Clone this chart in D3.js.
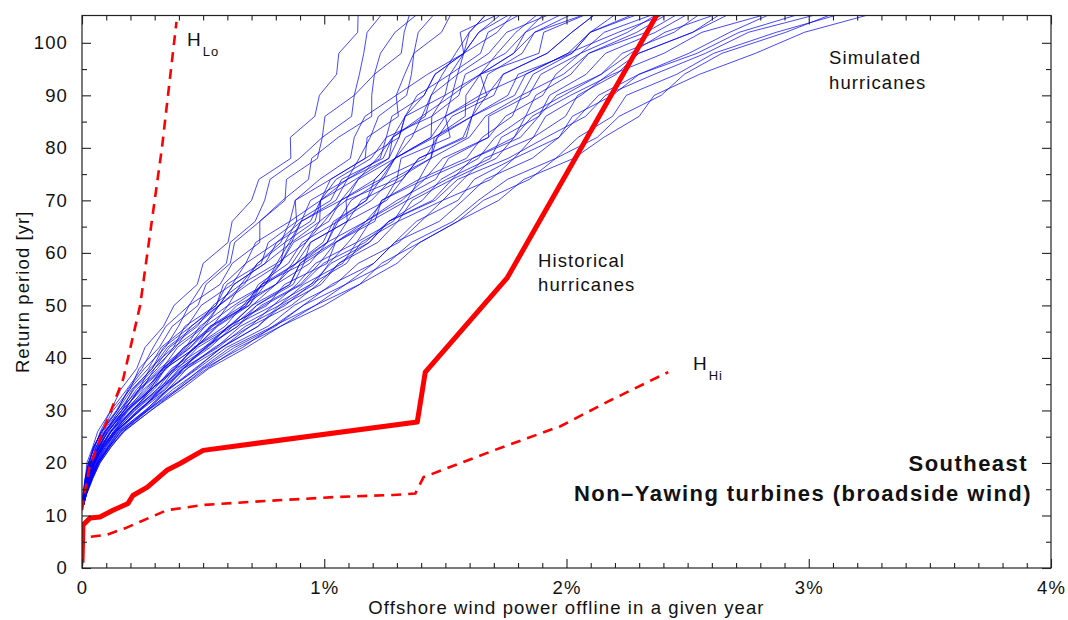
<!DOCTYPE html>
<html>
<head>
<meta charset="utf-8">
<script src="https://cdn.jsdelivr.net/npm/d3@7"></script>
<style>
  html, body { margin: 0; padding: 0; background: #fff; }
  svg { display: block; }
  text { font-family: "Liberation Sans", Arial, Helvetica, sans-serif; fill: #111; }
</style>
</head>
<body>
<svg id="chart" width="1068" height="620"></svg>
<script>
// Return periods (years) at which each simulated loss curve is sampled
const returnPeriods = [12, 14, 17, 20, 23, 26, 30, 34, 38, 42, 46, 50, 54, 58, 62, 66, 70, 74, 78, 82, 86, 90, 94, 98, 102, 106];

// Simulated hurricane sets: offshore wind power offline (%) at each return period
const simulated = [
  [0, .003, .014, .020, .044, .065, .119, .160, .226, .260, .336, .380, .476, .500, .603, .620, .700, .730, .862, .860, .961, .980, 1.051, 1.060, 1.138, 1.140],
  [.002, .005, .012, .026, .052, .076, .119, .185, .248, .294, .346, .442, .498, .596, .612, .715, .754, .776, .898, .992, 1.003, 1.124, 1.145, 1.163, 1.177, 1.248],
  [.002, .006, .015, .031, .048, .082, .146, .190, .258, .344, .398, .442, .570, .620, .734, .734, .828, .935, .948, 1.058, 1.196, 1.196, 1.207, 1.318, 1.330, 1.356],
  [.003, .008, .019, .037, .056, .093, .164, .210, .290, .336, .450, .554, .584, .676, .717, .858, .880, .981, 1.108, 1.124, 1.168, 1.297, 1.332, 1.370, 1.484, 1.529],
  [.005, .012, .024, .039, .064, .093, .164, .248, .300, .386, .450, .566, .670, .724, .821, .858, .985, 1.049, 1.194, 1.256, 1.279, 1.412, 1.457, 1.576, 1.599, 1.680],
  [.001, .006, .017, .034, .068, .109, .173, .235, .332, .394, .507, .566, .685, .820, .838, .962, .985, 1.129, 1.267, 1.282, 1.417, 1.441, 1.550, 1.576, 1.714, 1.788],
  [.006, .013, .028, .045, .072, .104, .182, .273, .332, .436, .507, .628, .757, .804, .925, .981, 1.090, 1.140, 1.292, 1.441, 1.444, 1.556, 1.582, 1.748, 1.830, 1.918],
  [.002, .009, .024, .045, .080, .115, .186, .280, .338, .449, .538, .678, .728, .852, .908, 1.057, 1.111, 1.243, 1.292, 1.441, 1.500, 1.642, 1.675, 1.817, 1.868, 2.047],
  [.004, .012, .028, .050, .078, .122, .193, .285, .386, .462, .590, .665, .800, .884, 1.012, 1.057, 1.195, 1.277, 1.440, 1.467, 1.610, 1.671, 1.738, 1.920, 2.022, 2.134],
  [.006, .015, .033, .053, .084, .131, .209, .285, .396, .478, .622, .721, .872, .916, 1.047, 1.190, 1.237, 1.391, 1.440, 1.599, 1.665, 1.815, 1.862, 2.023, 2.098, 2.220],
  [.003, .011, .028, .050, .088, .137, .218, .310, .418, .504, .642, .740, .901, .980, 1.047, 1.171, 1.300, 1.460, 1.513, 1.678, 1.748, 1.902, 1.956, 2.058, 2.252, 2.393],
  [.007, .017, .036, .059, .092, .142, .229, .340, .418, .554, .653, .814, .915, 1.076, 1.134, 1.285, 1.342, 1.505, 1.686, 1.731, 1.886, 1.930, 2.081, 2.161, 2.367, 2.522],
  [.005, .014, .035, .061, .104, .148, .240, .355, .434, .579, .694, .864, .973, 1.060, 1.221, 1.304, 1.489, 1.574, 1.661, 1.863, 1.914, 2.060, 2.174, 2.298, 2.521, 2.695],
  [.007, .017, .038, .065, .108, .153, .261, .355, .479, .596, .767, .876, 1.045, 1.140, 1.308, 1.399, 1.489, 1.688, 1.784, 1.969, 2.052, 2.132, 2.299, 2.505, 2.674, 2.868],
  [.006, .017, .040, .070, .114, .170, .272, .398, .504, .663, .788, .963, 1.088, 1.260, 1.360, 1.532, 1.636, 1.756, 1.956, 2.048, 2.190, 2.247, 2.455, 2.608, 2.866, 3.170],
  [.006, .018, .043, .075, .118, .175, .283, .410, .524, .680, .819, 1.000, 1.146, 1.300, 1.395, 1.551, 1.720, 1.824, 2.030, 2.154, 2.300, 2.362, 2.549, 2.780, 2.982, 3.300],
  [.002, .006, .014, .028, .048, .082, .146, .205, .290, .352, .466, .566, .627, .756, .865, .905, 1.069, 1.209, 1.292, 1.454, 1.610, 1.642, 1.831, 2.006, 2.214, 2.436],
  [.004, .013, .033, .053, .090, .129, .209, .310, .376, .470, .554, .678, .742, .820, .865, .981, .985, 1.095, 1.144, 1.190, 1.224, 1.340, 1.360, 1.370, 1.388, 1.464],
  [.003, .009, .021, .034, .064, .096, .173, .240, .338, .420, .554, .640, .800, .940, 1.012, 1.171, 1.321, 1.414, 1.612, 1.784, 1.858, 2.017, 2.190, 2.402, 2.559, 2.868],
  [.005, .015, .038, .067, .112, .159, .268, .360, .472, .575, .726, .814, .958, 1.020, 1.099, 1.171, 1.248, 1.300, 1.440, 1.454, 1.582, 1.585, 1.644, 1.714, 1.791, 1.896],
  [.005, .012, .024, .048, .072, .120, .182, .290, .344, .470, .528, .690, .742, .916, .943, 1.095, 1.090, 1.300, 1.317, 1.520, 1.500, 1.671, 1.644, 1.886, 1.906, 2.112],
  [.002, .008, .022, .037, .070, .100, .175, .235, .322, .428, .486, .603, .656, .804, .856, .905, 1.048, 1.095, 1.267, 1.309, 1.334, 1.498, 1.519, 1.645, 1.676, 1.831],
  [.002, .010, .026, .048, .084, .120, .211, .285, .383, .462, .611, .702, .858, .900, 1.039, 1.095, 1.258, 1.323, 1.390, 1.586, 1.610, 1.758, 1.800, 2.023, 2.098, 2.306],
  [.004, .013, .035, .061, .096, .144, .232, .345, .421, .562, .674, .839, .944, 1.028, 1.186, 1.266, 1.447, 1.528, 1.612, 1.810, 1.886, 1.959, 2.143, 2.264, 2.406, 2.652],
  [.005, .012, .028, .045, .080, .118, .204, .298, .370, .504, .606, .752, .908, .996, 1.169, 1.266, 1.458, 1.551, 1.759, 1.916, 2.079, 2.161, 2.362, 2.574, 2.751, 3.084],
  [.007, .017, .038, .063, .100, .142, .240, .330, .418, .512, .642, .721, .858, .900, 1.012, 1.048, 1.174, 1.209, 1.292, 1.362, 1.403, 1.441, 1.488, 1.542, 1.599, 1.680],
  [.003, .008, .017, .037, .058, .098, .153, .235, .280, .378, .424, .554, .598, .740, .769, .886, .880, 1.026, 1.169, 1.177, 1.306, 1.297, 1.426, 1.576, 1.561, 1.745],
  [.006, .014, .031, .054, .086, .135, .218, .325, .402, .529, .622, .789, .886, .964, 1.134, 1.190, 1.342, 1.391, 1.587, 1.652, 1.776, 1.815, 1.987, 2.092, 2.329, 2.479],
  [.001, .006, .015, .026, .052, .078, .142, .195, .274, .327, .434, .492, .620, .676, .804, .905, .943, 1.095, 1.231, 1.256, 1.444, 1.498, 1.644, 1.782, 1.868, 2.112],
  [.004, .011, .025, .041, .074, .105, .186, .255, .351, .420, .538, .603, .757, .820, .873, 1.019, 1.069, 1.232, 1.292, 1.335, 1.500, 1.527, 1.644, 1.782, 1.830, 2.004],
  [.003, .012, .029, .053, .080, .133, .204, .320, .386, .520, .601, .764, .836, 1.012, 1.047, 1.209, 1.237, 1.414, 1.489, 1.678, 1.679, 1.844, 1.894, 2.058, 2.156, 2.393],
  [.004, .013, .035, .064, .106, .151, .261, .355, .466, .579, .726, .826, .987, 1.060, 1.186, 1.266, 1.405, 1.482, 1.636, 1.705, 1.831, 1.873, 2.018, 2.092, 2.290, 2.436],
  [.006, .017, .042, .068, .112, .160, .272, .375, .498, .630, .798, .913, 1.088, 1.204, 1.291, 1.475, 1.573, 1.665, 1.858, 1.969, 2.024, 2.190, 2.299, 2.539, 2.713, 3.000],
  [.001, .006, .017, .032, .060, .087, .155, .215, .300, .361, .476, .541, .656, .724, .838, .886, 1.027, 1.072, 1.243, 1.282, 1.403, 1.527, 1.550, 1.679, 1.753, 1.961],
  [.006, .013, .029, .048, .076, .120, .189, .280, .344, .470, .559, .690, .757, .884, .995, 1.038, 1.174, 1.232, 1.415, 1.467, 1.527, 1.700, 1.738, 1.920, 2.022, 2.134],
  [.007, .017, .035, .056, .096, .138, .240, .320, .434, .546, .694, .789, .944, 1.092, 1.152, 1.304, 1.363, 1.528, 1.710, 1.784, 1.831, 1.988, 2.143, 2.230, 2.444, 2.566],
  [.004, .010, .022, .037, .066, .096, .164, .225, .312, .378, .497, .566, .627, .756, .804, .943, .985, 1.026, 1.169, 1.309, 1.334, 1.383, 1.519, 1.576, 1.638, 1.788],
  [.002, .006, .014, .028, .046, .082, .128, .198, .236, .319, .372, .479, .512, .612, .630, .734, .838, .844, .972, .992, 1.113, 1.124, 1.207, 1.232, 1.292, 1.399],
  [.006, .017, .040, .070, .108, .164, .265, .390, .492, .613, .788, .913, 1.030, 1.204, 1.291, 1.380, 1.552, 1.619, 1.784, 1.863, 1.996, 2.046, 2.206, 2.298, 2.521, 2.652],
  [.002, .008, .024, .048, .088, .137, .236, .325, .408, .512, .606, .702, .800, .868, .925, 1.000, 1.069, 1.140, 1.218, 1.282, 1.334, 1.412, 1.457, 1.576, 1.638, 1.745],
  [.007, .019, .045, .073, .120, .170, .286, .395, .517, .646, .819, .963, 1.146, 1.236, 1.395, 1.551, 1.657, 1.847, 1.956, 2.127, 2.217, 2.391, 2.486, 2.642, 2.905, 3.127],
  [.002, .010, .026, .042, .068, .109, .175, .265, .332, .445, .528, .665, .742, .884, .943, 1.095, 1.153, 1.323, 1.390, 1.573, 1.610, 1.786, 1.831, 2.006, 2.098, 2.328]
];

// Historical hurricanes: loss (%) and return period (yr)
const historicalLoss = [0, 0.004, 0.033, 0.074, 0.128, 0.19, 0.21, 0.27, 0.35, 0.405, 0.5, 1.384, 1.417, 1.756, 2.40];
const historicalRP   = [1, 8.2, 9.5, 9.7, 11, 12.3, 13.8, 15.4, 18.6, 19.9, 22.4, 27.8, 37.3, 55.3, 107.5];

// Low-bound historical estimate (H_Lo)
const hLoLoss = [0, 0.01, 0.03, 0.07, 0.12, 0.17, 0.20, 0.24, 0.27, 0.30, 0.33, 0.355, 0.38, 0.39];
const hLoRP   = [11, 14, 19, 24, 30, 36, 42, 50, 60, 70, 80, 90, 100, 104];

// High-bound historical estimate (H_Hi)
const hHiLoss = [0, 0.004, 0.025, 0.10, 0.18, 0.24, 0.35, 0.50, 0.70, 1.04, 1.285, 1.376, 1.41, 1.70, 1.975, 2.18, 2.42];
const hHiRP   = [0.5, 5.3, 5.9, 6.3, 7.6, 8.8, 11, 12, 12.6, 13.5, 13.9, 14.2, 17.3, 22.4, 27, 31.9, 37.3];

// Axis ticks
const xMajorTicks = [0, 1, 2, 3, 4];
const xTickLabels = ["0", "1%", "2%", "3%", "4%"];
const yMajorTicks = [0, 10, 20, 30, 40, 50, 60, 70, 80, 90, 100];

const svg = d3.select("#chart");
const plotLeft = 82, plotRight = 1051, plotTop = 15.5, plotBottom = 568;

const x = d3.scaleLinear().domain([0, 4]).range([plotLeft, plotRight]);
const y = d3.scaleLinear().domain([0, 105.2]).range([plotBottom, plotTop]);

svg.append("defs").append("clipPath").attr("id", "plotClip")
  .append("rect").attr("x", plotLeft).attr("y", plotTop)
  .attr("width", plotRight - plotLeft).attr("height", plotBottom - plotTop);

const plot = svg.append("g").attr("clip-path", "url(#plotClip)");

const line = d3.line().x(d => x(d[0])).y(d => y(d[1]));
const zip = (a, b) => a.map((v, i) => [v, b[i]]);

// Simulated hurricane curves
plot.append("g").selectAll("path")
  .data(simulated)
  .join("path")
  .attr("d", s => line(zip(s, returnPeriods)))
  .attr("fill", "none")
  .attr("stroke", "#0000ff")
  .attr("stroke-opacity", 0.72)
  .attr("stroke-width", 1)
  .attr("stroke-linejoin", "round");

// Bounds of historical estimate (dashed)
plot.append("path")
  .attr("d", line(zip(hLoLoss, hLoRP)))
  .attr("fill", "none").attr("stroke", "#ff0000")
  .attr("stroke-width", 2.6).attr("stroke-dasharray", "10,7");
plot.append("path")
  .attr("d", line(zip(hHiLoss, hHiRP)))
  .attr("fill", "none").attr("stroke", "#ff0000")
  .attr("stroke-width", 2.6).attr("stroke-dasharray", "10,7");

// Historical hurricanes
plot.append("path")
  .attr("d", line(zip(historicalLoss, historicalRP)))
  .attr("fill", "none").attr("stroke", "#ff0000")
  .attr("stroke-width", 5).attr("stroke-linejoin", "round");

// Frame
const axisColor = "#222";
svg.append("rect")
  .attr("x", plotLeft).attr("y", plotTop)
  .attr("width", plotRight - plotLeft).attr("height", plotBottom - plotTop)
  .attr("fill", "none").attr("stroke", axisColor).attr("stroke-width", 1.2);

// Inward ticks on all four sides
const xMinor = d3.range(0, 41).map(i => i / 10).filter(v => !xMajorTicks.includes(v));
const yMinor = d3.range(5, 105, 10);

const xAxisB = d3.axisBottom(x).tickValues(xMajorTicks).tickSize(-9).tickFormat((d, i) => xTickLabels[i]).tickPadding(13);
const xAxisBm = d3.axisBottom(x).tickValues(xMinor).tickSize(-5).tickFormat("");
const xAxisT = d3.axisTop(x).tickValues(xMajorTicks).tickSize(-9).tickFormat("");
const xAxisTm = d3.axisTop(x).tickValues(xMinor).tickSize(-5).tickFormat("");
const yAxisL = d3.axisLeft(y).tickValues(yMajorTicks).tickSize(-9).tickPadding(14);
const yAxisLm = d3.axisLeft(y).tickValues(yMinor).tickSize(-5).tickFormat("");
const yAxisR = d3.axisRight(y).tickValues(yMajorTicks).tickSize(-9).tickFormat("");
const yAxisRm = d3.axisRight(y).tickValues(yMinor).tickSize(-5).tickFormat("");

function styleAxis(g) {
  g.select(".domain").remove();
  g.selectAll(".tick line").attr("stroke", axisColor).attr("stroke-width", 1.1);
  g.selectAll(".tick text")
    .attr("fill", "#111")
    .style("font-family", '"Liberation Sans", Arial, sans-serif')
    .style("font-size", "18.5px")
    .style("letter-spacing", "1.1px");
}

svg.append("g").attr("transform", `translate(0,${plotBottom})`).call(xAxisB).call(styleAxis);
svg.append("g").attr("transform", `translate(0,${plotBottom})`).call(xAxisBm).call(styleAxis);
svg.append("g").attr("transform", `translate(0,${plotTop})`).call(xAxisT).call(styleAxis);
svg.append("g").attr("transform", `translate(0,${plotTop})`).call(xAxisTm).call(styleAxis);
svg.append("g").attr("transform", `translate(${plotLeft},0)`).call(yAxisL).call(styleAxis);
svg.append("g").attr("transform", `translate(${plotLeft},0)`).call(yAxisLm).call(styleAxis);
svg.append("g").attr("transform", `translate(${plotRight},0)`).call(yAxisR).call(styleAxis);
svg.append("g").attr("transform", `translate(${plotRight},0)`).call(yAxisRm).call(styleAxis);

// Text helpers
const regular = { size: "18.5px", spacing: "1.1px" };
function label(xp, yp, txt, opts = {}) {
  return svg.append("text")
    .attr("x", xp).attr("y", yp)
    .attr("text-anchor", opts.anchor || "start")
    .style("font-size", opts.size || regular.size)
    .style("letter-spacing", opts.spacing || regular.spacing)
    .style("font-weight", opts.weight || "normal")
    .text(txt);
}

// Axis titles
label((plotLeft + plotRight) / 2, 614, "Offshore wind power offline in a given year", { anchor: "middle" });
svg.append("text")
  .attr("transform", `translate(28.5,${(plotTop + plotBottom) / 2}) rotate(-90)`)
  .attr("text-anchor", "middle")
  .style("font-size", regular.size)
  .style("letter-spacing", regular.spacing)
  .text("Return period [yr]");

// Curve annotations
function subLabel(xp, yp, main, sub) {
  const t = svg.append("text").attr("x", xp).attr("y", yp)
    .style("font-size", "19px").style("letter-spacing", "1px");
  t.append("tspan").text(main);
  t.append("tspan").attr("dx", 1).attr("dy", 10).style("font-size", "13px").text(sub);
}
subLabel(187, 46, "H", "Lo");
subLabel(693, 370, "H", "Hi");

label(538, 267, "Historical");
label(538, 291, "hurricanes");
label(829, 64, "Simulated");
label(829, 89, "hurricanes");

// Region / configuration title
const boldOpts = { anchor: "end", size: "22px", spacing: "1.45px", weight: "bold" };
label(1028, 471, "Southeast", boldOpts);
label(1032, 501, "Non\u2013Yawing turbines (broadside wind)", boldOpts);
</script>
</body>
</html>
